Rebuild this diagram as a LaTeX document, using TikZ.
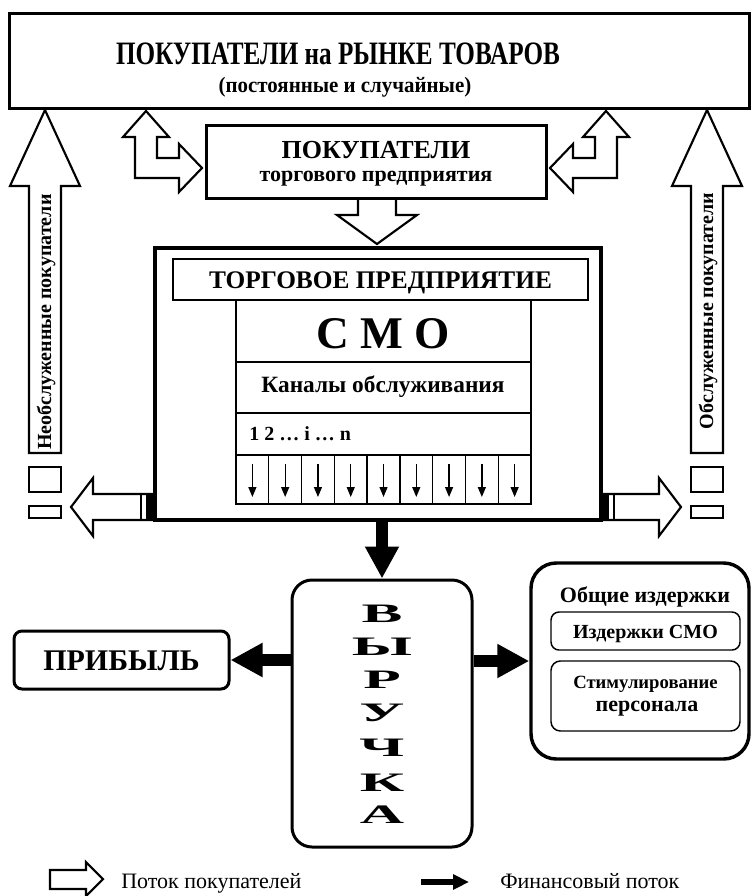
\documentclass[tikz,border=0pt]{standalone}
\usepackage{fontspec}
\setmainfont{Liberation Serif}
\usetikzlibrary{arrows.meta}
\newcommand{\fsz}[1]{\fontsize{#1}{#1}\selectfont}
\begin{document}
\begin{tikzpicture}[x=0.75pt,y=-0.75pt,
  bx/.style={draw, line width=2.25pt, inner sep=0pt},
  rbx/.style={draw, line width=2.25pt, inner sep=0pt},
  hollow/.style={draw, line width=1.6pt, line join=miter},
  fin/.style={line width=9pt, -{Triangle[length=24pt,width=24pt]}},
  chan/.style={line width=1pt, -{Triangle[length=7.5pt,width=6pt]}},
  lbl/.style={inner sep=0pt, font=\bfseries},
  sq/.style={draw, line width=1.6pt},
]
\useasboundingbox (0,0) rectangle (752,896);

% ---------- top box
\node[bx, minimum width=555pt, minimum height=71.25pt] (top) at (379,60.5) {};
\node[lbl, anchor=base, font=\bfseries\fsz{24.5}] (title) at (338,64) {\scalebox{0.77}[1]{ПОКУПАТЕЛИ на РЫНКЕ ТОВАРОВ}};
\node[lbl, anchor=base, font=\bfseries\fsz{16.5}] (subtitle) at (345,92) {\scalebox{0.95}[1]{(постоянные и случайные)}};

% ---------- middle box
\node[bx, minimum width=255pt, minimum height=54.75pt] (mid) at (376,161.5) {};
\node[lbl, anchor=base, font=\bfseries\fsz{19.5}] (midt) at (376,158) {ПОКУПАТЕЛИ};
\node[lbl, anchor=base, font=\bfseries\fsz{16.5}] (mids) at (376,181) {торгового предприятия};

% L-shaped double arrows
\draw[hollow] (146,111) -- (169,137) -- (157,137) -- (157,158) -- (179,158) -- (179,144) -- (202,168)
  -- (179,192) -- (179,178) -- (135,178) -- (135,137) -- (123,137) -- cycle;
\draw[hollow] (606,111) -- (583,137) -- (595,137) -- (595,158) -- (573,158) -- (573,144) -- (550,168)
  -- (573,192) -- (573,178) -- (617,178) -- (617,137) -- (629,137) -- cycle;
% down hollow arrow
\draw[hollow] (358,198) -- (358,215) -- (337,215) -- (377,244) -- (417,215) -- (396,215) -- (396,198);

% ---------- vertical side arrows
\draw[hollow] (29,453) -- (29,186) -- (10,186) -- (45,110) -- (80,186) -- (61,186) -- (61,453) -- cycle;
\draw[hollow] (691,453) -- (691,186) -- (672,186) -- (707,110) -- (742,186) -- (723,186) -- (723,453) -- cycle;
\node[lbl, rotate=90, font=\bfseries\fsz{15}] (unserved) at (46,322) {Необслуженные покупатели};
\node[lbl, rotate=90, font=\bfseries\fsz{15}] (served) at (708,311) {Обслуженные покупатели};

% small squares
\draw[sq] (29,467) rectangle (61,492);
\draw[sq] (29,506) rectangle (61,518);
\draw[sq] (691,467) rectangle (723,492);
\draw[sq] (691,506) rectangle (723,518);

% ---------- enterprise
\node[draw, line width=3.4pt, inner sep=0pt, minimum width=334.5pt, minimum height=204pt] (ent) at (378,384) {};
\node[draw, line width=1.9pt, inner sep=0pt, minimum width=311.25pt, minimum height=30.75pt] (tbox) at (380.5,279.5) {};
\node[lbl, anchor=base, font=\bfseries\fsz{19}] (tboxt) at (380.5,288) {ТОРГОВОЕ ПРЕДПРИЯТИЕ};

% SMO grid
\draw[line width=1pt] (236,300) rectangle (531,504);
\draw[line width=1pt] (236,362) -- (531,362) (236,413) -- (531,413) (236,455) -- (531,455);
\foreach \k in {1,...,8} \draw[line width=1pt] ({236+32.78*\k},455) -- ({236+32.78*\k},504);
\foreach \k in {0,...,8} \draw[chan] ({236+32.78*(\k+0.5)},464) -- ({236+32.78*(\k+0.5)},497);
\node[lbl, anchor=base, font=\bfseries\fsz{34}] (smo) at (383,348) {С М О};
\node[lbl, anchor=base, font=\bfseries\fsz{17.5}] (kan) at (383,392) {Каналы обслуживания};
\node[lbl, anchor=base west, font=\bfseries\fsz{15}] (nums) at (249,440) {1 2 … i … n};

% side hollow arrows with tails
\draw[hollow] (155,494) -- (93,494) -- (93,478) -- (71,507) -- (93,536) -- (93,520) -- (155,520);
\draw[hollow] (601,494) -- (659,494) -- (659,478) -- (681,507) -- (659,536) -- (659,520) -- (601,520);
\fill (146,494) rectangle (157,520);
\fill (599,494) rectangle (609,520);
\draw[line width=1pt] (141,494) -- (141,520);
\draw[line width=1pt] (614,494) -- (614,520);

% ---------- revenue
\node[rbx, rounded corners=15pt, minimum width=135pt, minimum height=200.25pt] (vyr) at (382,713.5) {};
\foreach \l/\yy [count=\i] in {В/614,Ы/647,Р/680,У/713,Ч/748,К/783,А/815}
  \node[lbl, font=\bfseries\fsz{20}] (v\i) at (382,\yy) {\scalebox{2.3}[1]{\l}};

\node[rbx, rounded corners=6pt, minimum width=161.25pt, minimum height=43.5pt] (prib) at (121.5,660) {};
\node[lbl, anchor=base, font=\bfseries\fsz{22.5}] (pribt) at (121.5,670) {ПРИБЫЛЬ};

\node[draw, line width=2.6pt, rounded corners=19pt, inner sep=0pt, minimum width=163.5pt, minimum height=147pt] (costs) at (640,661) {};
\node[lbl, anchor=base, font=\bfseries\fsz{16.5}] (costst) at (645,602) {Общие издержки};
\node[draw, line width=1.1pt, rounded corners=6pt, inner sep=0pt, minimum width=141.75pt, minimum height=28.5pt] (ic1) at (645.5,631) {};
\node[lbl, anchor=base, font=\bfseries\fsz{15}] (ic1t) at (645.5,638) {Издержки СМО};
\node[draw, line width=1.1pt, rounded corners=7pt, inner sep=0pt, minimum width=141.75pt, minimum height=52.5pt] (ic2) at (645.5,696) {};
\node[lbl, anchor=base, font=\bfseries\fsz{14}] (ic2a) at (645.5,688) {Стимулирование};
\node[lbl, anchor=base, font=\bfseries\fsz{16.5}] (ic2b) at (647,711) {персонала};

% financial arrows
\draw[fin] (ent.south -| vyr.north) -- (vyr.north);
\draw[fin] (vyr.west |- prib.east) -- (prib.east);
\draw[fin] (vyr.east |- costs.west) -- (costs.west);

% ---------- legend
\draw[hollow] (50,870) -- (86,870) -- (86,862) -- (103,879) -- (86,896) -- (86,889) -- (50,889) -- cycle;
\node[inner sep=0pt, anchor=base west, font=\fsz{16.5}] (leg1) at (121,888) {Поток покупателей};
\coordinate (lfa) at (421,882);
\coordinate (lfb) at (469,882);
\draw[line width=5pt, -{Triangle[length=12pt,width=11pt]}] (lfa) -- (lfb);
\node[inner sep=0pt, anchor=base west, font=\fsz{16.5}] (leg2) at (500,888) {Финансовый поток};
\end{tikzpicture}
\end{document}
